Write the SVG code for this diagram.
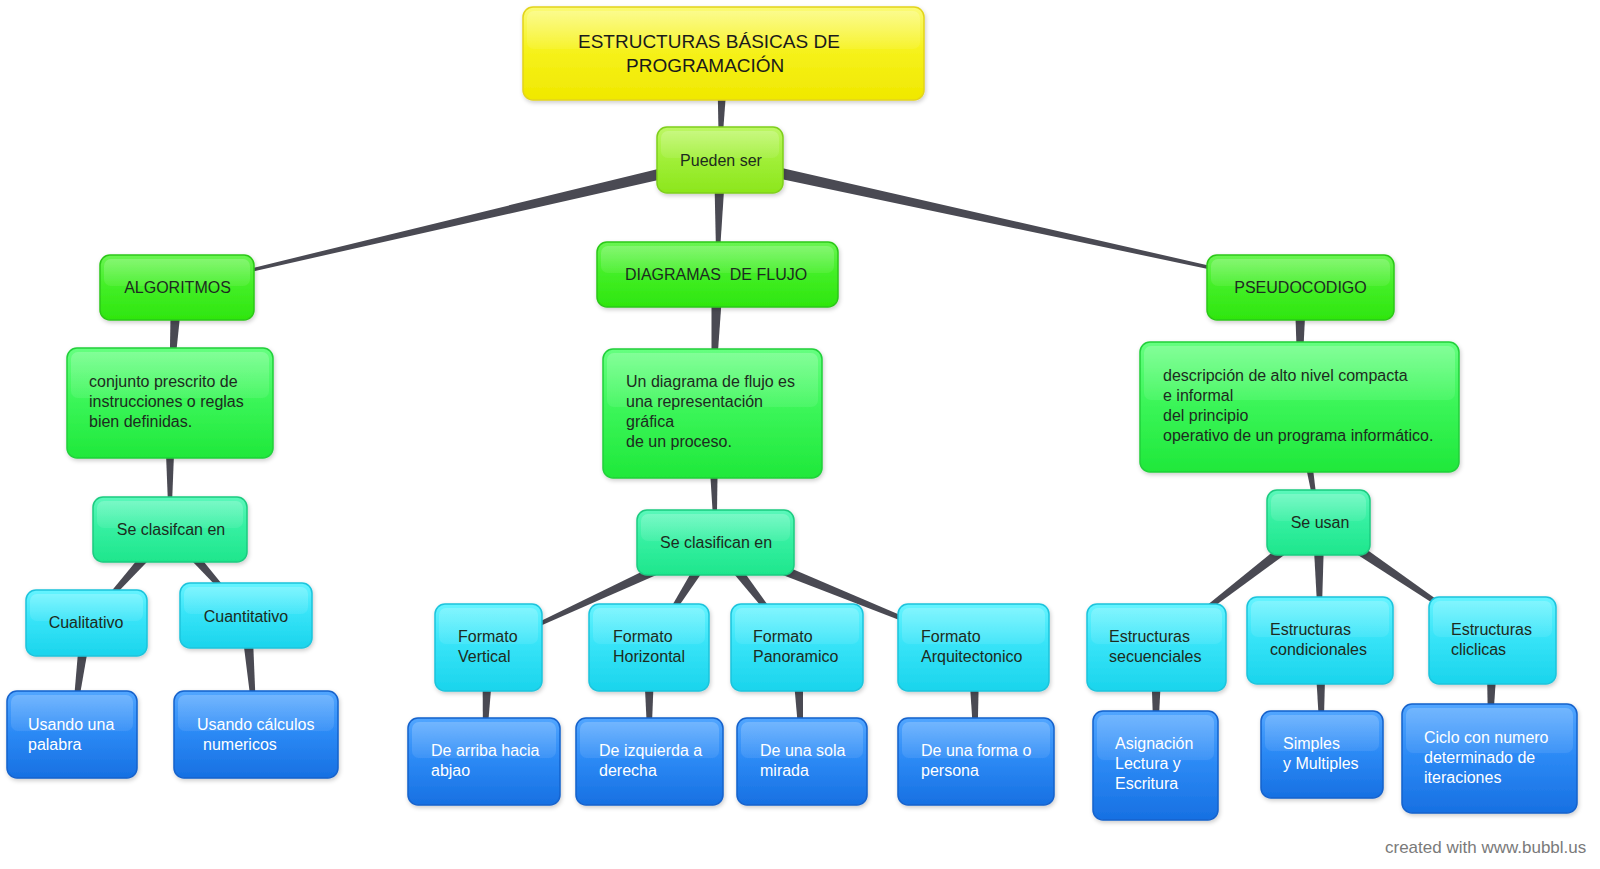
<svg xmlns="http://www.w3.org/2000/svg" width="1600" height="869" viewBox="0 0 1600 869">
<defs>
<linearGradient id="gY" x1="0" y1="0" x2="0" y2="1"><stop offset="0" stop-color="#fbfb78"/><stop offset="0.45" stop-color="#f6f21c"/><stop offset="1" stop-color="#f0e800"/></linearGradient>
<linearGradient id="gL" x1="0" y1="0" x2="0" y2="1"><stop offset="0" stop-color="#bdf765"/><stop offset="0.45" stop-color="#a2f03a"/><stop offset="1" stop-color="#8ce61c"/></linearGradient>
<linearGradient id="gH" x1="0" y1="0" x2="0" y2="1"><stop offset="0" stop-color="#6af552"/><stop offset="0.45" stop-color="#44ef28"/><stop offset="1" stop-color="#2ee60e"/></linearGradient>
<linearGradient id="gD" x1="0" y1="0" x2="0" y2="1"><stop offset="0" stop-color="#66ff80"/><stop offset="0.45" stop-color="#3cf65a"/><stop offset="1" stop-color="#1fe83a"/></linearGradient>
<linearGradient id="gT" x1="0" y1="0" x2="0" y2="1"><stop offset="0" stop-color="#5cf8bb"/><stop offset="0.45" stop-color="#36f0a2"/><stop offset="1" stop-color="#1ee68c"/></linearGradient>
<linearGradient id="gC" x1="0" y1="0" x2="0" y2="1"><stop offset="0" stop-color="#66f4ff"/><stop offset="0.45" stop-color="#38e4f8"/><stop offset="1" stop-color="#1ad4ec"/></linearGradient>
<linearGradient id="gB" x1="0" y1="0" x2="0" y2="1"><stop offset="0" stop-color="#52a6ff"/><stop offset="0.45" stop-color="#2d8bf6"/><stop offset="1" stop-color="#1770e2"/></linearGradient>
<linearGradient id="gG" x1="0" y1="0" x2="0" y2="1"><stop offset="0" stop-color="#ffffff" stop-opacity="0.2"/><stop offset="1" stop-color="#ffffff" stop-opacity="0.08"/></linearGradient>
<filter id="sh" x="-10%" y="-10%" width="120%" height="130%"><feDropShadow dx="1" dy="2" stdDeviation="2" flood-color="#000" flood-opacity="0.2"/></filter>
</defs>
<style>
.b{stroke-width:1.5;filter:url(#sh)}
.yl{fill:url(#gY);stroke:#e2d41a}
.lm{fill:url(#gL);stroke:#7fcf1c}
.hd{fill:url(#gH);stroke:#2cc818}
.ds{fill:url(#gD);stroke:#20d03a}
.tl{fill:url(#gT);stroke:#1ccb80}
.cy{fill:url(#gC);stroke:#1cc4dc}
.bl{fill:url(#gB);stroke:#1562cc}
.g{fill:url(#gG)}
.t{font-family:"Liberation Sans",Arial,Helvetica,sans-serif;font-size:16px;fill:#1d2b20}
.ti{font-size:19px;fill:#1a1a1a}
.c{text-anchor:middle}
.w{fill:#ffffff}
.cn{fill:#4a4a53}
.ft{font-family:"Liberation Sans",Arial,Helvetica,sans-serif;font-size:17px;fill:#7a7a7a}
</style>
<rect x="0" y="0" width="1600" height="869" fill="#ffffff"/>
<g id="connectors">
<polygon class="cn" points="717,53 729,53 721,160 719,160"/>
<polygon class="cn" points="714,160 726,160 718.5,274.5 716.5,274.5"/>
<polygon class="cn" points="718.63,154.16 176.77,286.53 177.23,288.47 721.37,165.84"/>
<polygon class="cn" points="718.71,165.86 1300.29,288.48 1300.71,286.52 721.29,154.14"/>
<polygon class="cn" points="171,287.5 183,287.5 171,403 169,403"/>
<polygon class="cn" points="164,403 176,403 171,529.5 169,529.5"/>
<polygon class="cn" points="165.53,525.5 85.75,622.33 87.25,623.67 174.47,533.5"/>
<polygon class="cn" points="165.51,533.47 245.25,616.16 246.75,614.84 174.49,525.53"/>
<polygon class="cn" points="80.5,623 92.5,623 73,734.5 71,734.5"/>
<polygon class="cn" points="240,615.5 252,615.5 257,734.5 255,734.5"/>
<polygon class="cn" points="711.5,274.5 723.5,274.5 713.5,413.5 711.5,413.5"/>
<polygon class="cn" points="706.5,413.5 718.5,413.5 716.5,542.5 714.5,542.5"/>
<polygon class="cn" points="712.98,537.05 488.08,646.59 488.92,648.41 718.02,547.95"/>
<polygon class="cn" points="710.43,539.29 648.16,646.96 649.84,648.04 720.57,545.71"/>
<polygon class="cn" points="710.76,546.18 796.21,648.11 797.79,646.89 720.24,538.82"/>
<polygon class="cn" points="713.24,548.06 973.12,648.43 973.88,646.57 717.76,536.94"/>
<polygon class="cn" points="482.5,647.5 494.5,647.5 485,761.5 483,761.5"/>
<polygon class="cn" points="643,647.5 655,647.5 650.5,761.5 648.5,761.5"/>
<polygon class="cn" points="791,647.5 803,647.5 803,761.5 801,761.5"/>
<polygon class="cn" points="967.5,647.5 979.5,647.5 977,761.5 975,761.5"/>
<polygon class="cn" points="1294.5,287.5 1306.5,287.5 1300.5,407 1298.5,407"/>
<polygon class="cn" points="1293.5,407 1305.5,407 1319.5,522.5 1317.5,522.5"/>
<polygon class="cn" points="1314.83,517.75 1155.89,646.71 1157.11,648.29 1322.17,527.25"/>
<polygon class="cn" points="1312.5,522.5 1324.5,522.5 1321,640.5 1319,640.5"/>
<polygon class="cn" points="1315.13,527.47 1491.94,641.33 1493.06,639.67 1321.87,517.53"/>
<polygon class="cn" points="1150.5,647.5 1162.5,647.5 1156.5,765.5 1154.5,765.5"/>
<polygon class="cn" points="1314,640.5 1326,640.5 1323,754.5 1321,754.5"/>
<polygon class="cn" points="1486.5,640.5 1498.5,640.5 1490.5,758.5 1488.5,758.5"/>
</g>
<g id="n-title"><rect class="b yl" x="523" y="7" width="401" height="93" rx="10"/><rect class="g" x="527" y="11" width="393" height="38" rx="7"/>
<text class="t ti" x="578" y="48">ESTRUCTURAS BÁSICAS DE</text><text class="t ti" x="626" y="72">PROGRAMACIÓN</text></g>
<g id="n-pueden"><rect class="b lm" x="657" y="127" width="126" height="66" rx="10"/><rect class="g" x="661" y="131" width="118" height="27" rx="7"/>
<text class="t c" x="721" y="166">Pueden ser</text></g>
<g id="n-alg"><rect class="b hd" x="100" y="255" width="154" height="65" rx="10"/><rect class="g" x="104" y="259" width="146" height="27" rx="7"/>
<text class="t c" x="177.5" y="293">ALGORITMOS</text></g>
<g id="n-dia"><rect class="b hd" x="597" y="242" width="241" height="65" rx="10"/><rect class="g" x="601" y="246" width="233" height="27" rx="7"/>
<text class="t c" x="716" y="280" xml:space="preserve">DIAGRAMAS  DE FLUJO</text></g>
<g id="n-pse"><rect class="b hd" x="1207" y="255" width="187" height="65" rx="10"/><rect class="g" x="1211" y="259" width="179" height="27" rx="7"/>
<text class="t c" x="1300.5" y="293">PSEUDOCODIGO</text></g>
<g id="n-conj"><rect class="b ds" x="67" y="348" width="206" height="110" rx="10"/><rect class="g" x="71" y="352" width="198" height="46" rx="7"/>
<text class="t" x="89" y="387">conjunto prescrito de</text><text class="t" x="89" y="407">instrucciones o reglas</text><text class="t" x="89" y="427">bien definidas.</text></g>
<g id="n-und"><rect class="b ds" x="603" y="349" width="219" height="129" rx="10"/><rect class="g" x="607" y="353" width="211" height="54" rx="7"/>
<text class="t" x="626" y="387">Un diagrama de flujo es</text><text class="t" x="626" y="407">una representación</text><text class="t" x="626" y="427">gráfica</text><text class="t" x="626" y="447">de un proceso.</text></g>
<g id="n-desc"><rect class="b ds" x="1140" y="342" width="319" height="130" rx="10"/><rect class="g" x="1144" y="346" width="311" height="54" rx="7"/>
<text class="t" x="1163" y="381">descripción de alto nivel compacta</text><text class="t" x="1163" y="401">e informal</text><text class="t" x="1163" y="421">del principio</text><text class="t" x="1163" y="441">operativo de un programa informático.</text></g>
<g id="n-scl"><rect class="b tl" x="93" y="497" width="154" height="65" rx="10"/><rect class="g" x="97" y="501" width="146" height="27" rx="7"/>
<text class="t c" x="171" y="535">Se clasifcan en</text></g>
<g id="n-scm"><rect class="b tl" x="637" y="510" width="157" height="65" rx="10"/><rect class="g" x="641" y="514" width="149" height="27" rx="7"/>
<text class="t c" x="716" y="548">Se clasifican en</text></g>
<g id="n-su"><rect class="b tl" x="1267" y="490" width="103" height="65" rx="10"/><rect class="g" x="1271" y="494" width="95" height="27" rx="7"/>
<text class="t c" x="1320" y="528">Se usan</text></g>
<g id="n-cual"><rect class="b cy" x="26" y="590" width="121" height="66" rx="10"/><rect class="g" x="30" y="594" width="113" height="27" rx="7"/>
<text class="t c" x="86" y="628">Cualitativo</text></g>
<g id="n-cuan"><rect class="b cy" x="180" y="583" width="132" height="65" rx="10"/><rect class="g" x="184" y="587" width="124" height="27" rx="7"/>
<text class="t c" x="246" y="622">Cuantitativo</text></g>
<g id="n-fv"><rect class="b cy" x="435" y="604" width="107" height="87" rx="10"/><rect class="g" x="439" y="608" width="99" height="36" rx="7"/>
<text class="t" x="458" y="642">Formato</text><text class="t" x="458" y="662">Vertical</text></g>
<g id="n-fh"><rect class="b cy" x="589" y="604" width="120" height="87" rx="10"/><rect class="g" x="593" y="608" width="112" height="36" rx="7"/>
<text class="t" x="613" y="642">Formato</text><text class="t" x="613" y="662">Horizontal</text></g>
<g id="n-fp"><rect class="b cy" x="731" y="604" width="132" height="87" rx="10"/><rect class="g" x="735" y="608" width="124" height="36" rx="7"/>
<text class="t" x="753" y="642">Formato</text><text class="t" x="753" y="662">Panoramico</text></g>
<g id="n-fa"><rect class="b cy" x="898" y="604" width="151" height="87" rx="10"/><rect class="g" x="902" y="608" width="143" height="36" rx="7"/>
<text class="t" x="921" y="642">Formato</text><text class="t" x="921" y="662">Arquitectonico</text></g>
<g id="n-es"><rect class="b cy" x="1087" y="604" width="139" height="87" rx="10"/><rect class="g" x="1091" y="608" width="131" height="36" rx="7"/>
<text class="t" x="1109" y="642">Estructuras</text><text class="t" x="1109" y="662">secuenciales</text></g>
<g id="n-ec"><rect class="b cy" x="1247" y="597" width="146" height="87" rx="10"/><rect class="g" x="1251" y="601" width="138" height="36" rx="7"/>
<text class="t" x="1270" y="635">Estructuras</text><text class="t" x="1270" y="655">condicionales</text></g>
<g id="n-ecl"><rect class="b cy" x="1429" y="597" width="127" height="87" rx="10"/><rect class="g" x="1433" y="601" width="119" height="36" rx="7"/>
<text class="t" x="1451" y="635">Estructuras</text><text class="t" x="1451" y="655">cliclicas</text></g>
<g id="n-uup"><rect class="b bl" x="7" y="691" width="130" height="87" rx="10"/><rect class="g" x="11" y="695" width="122" height="36" rx="7"/>
<text class="t w" x="28" y="730">Usando una</text><text class="t w" x="28" y="750">palabra</text></g>
<g id="n-uc"><rect class="b bl" x="174" y="691" width="164" height="87" rx="10"/><rect class="g" x="178" y="695" width="156" height="36" rx="7"/>
<text class="t w" x="197" y="730">Usando cálculos</text><text class="t w" x="203" y="750">numericos</text></g>
<g id="n-b1"><rect class="b bl" x="408" y="718" width="152" height="87" rx="10"/><rect class="g" x="412" y="722" width="144" height="36" rx="7"/>
<text class="t w" x="431" y="756">De arriba hacia</text><text class="t w" x="431" y="776">abjao</text></g>
<g id="n-b2"><rect class="b bl" x="576" y="718" width="147" height="87" rx="10"/><rect class="g" x="580" y="722" width="139" height="36" rx="7"/>
<text class="t w" x="599" y="756">De izquierda a</text><text class="t w" x="599" y="776">derecha</text></g>
<g id="n-b3"><rect class="b bl" x="737" y="718" width="130" height="87" rx="10"/><rect class="g" x="741" y="722" width="122" height="36" rx="7"/>
<text class="t w" x="760" y="756">De una sola</text><text class="t w" x="760" y="776">mirada</text></g>
<g id="n-b4"><rect class="b bl" x="898" y="718" width="156" height="87" rx="10"/><rect class="g" x="902" y="722" width="148" height="36" rx="7"/>
<text class="t w" x="921" y="756">De una forma o</text><text class="t w" x="921" y="776">persona</text></g>
<g id="n-asig"><rect class="b bl" x="1093" y="711" width="125" height="109" rx="10"/><rect class="g" x="1097" y="715" width="117" height="45" rx="7"/>
<text class="t w" x="1115" y="749">Asignación</text><text class="t w" x="1115" y="769">Lectura y</text><text class="t w" x="1115" y="789">Escritura</text></g>
<g id="n-simp"><rect class="b bl" x="1261" y="711" width="122" height="87" rx="10"/><rect class="g" x="1265" y="715" width="114" height="36" rx="7"/>
<text class="t w" x="1283" y="749">Simples</text><text class="t w" x="1283" y="769">y Multiples</text></g>
<g id="n-ciclo"><rect class="b bl" x="1402" y="704" width="175" height="109" rx="10"/><rect class="g" x="1406" y="708" width="167" height="45" rx="7"/>
<text class="t w" x="1424" y="743">Ciclo con numero</text><text class="t w" x="1424" y="763">determinado de</text><text class="t w" x="1424" y="783">iteraciones</text></g>
<text class="ft" x="1385" y="853">created with www.bubbl.us</text>
</svg>
